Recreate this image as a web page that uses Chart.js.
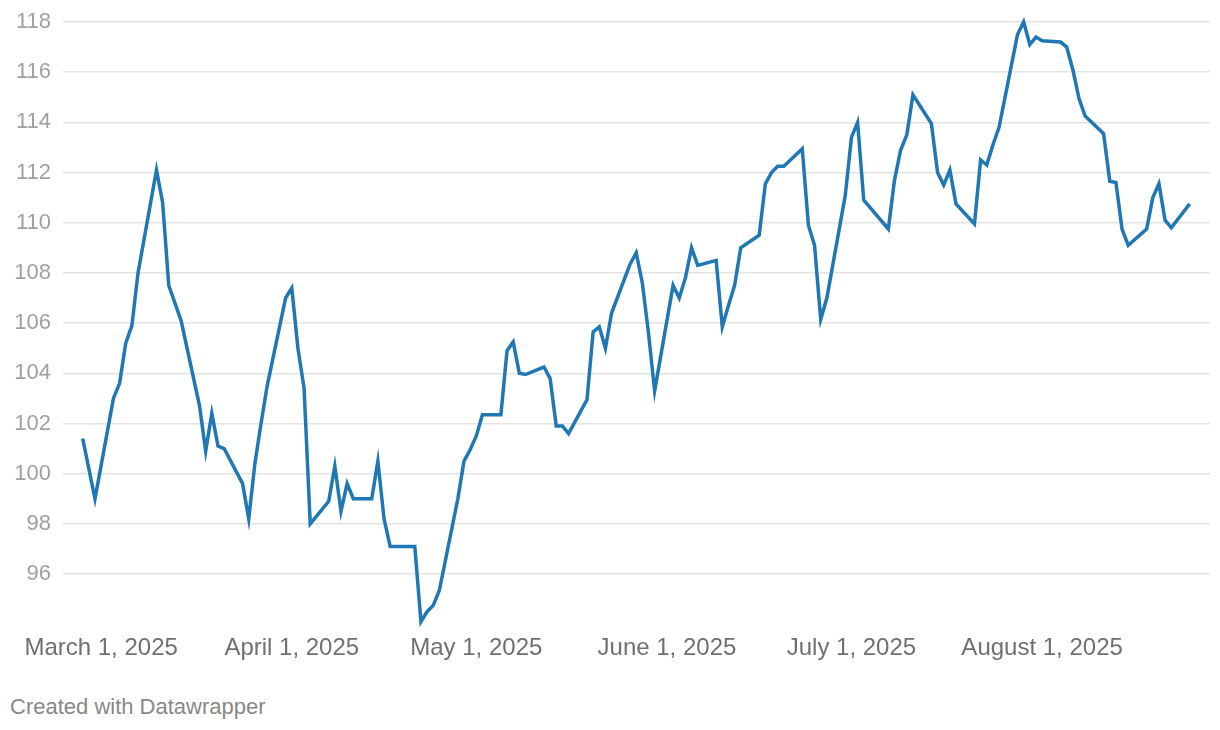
<!DOCTYPE html>
<html>
<head>
<meta charset="utf-8">
<script src="https://cdn.jsdelivr.net/npm/chart.js@4.4.1/dist/chart.umd.min.js"></script>
<style>
  html, body { margin: 0; padding: 0; background: #fff; }
  #wrap { position: relative; width: 1220px; height: 730px; }
  #chartBox { position: absolute; left: 0; top: 0; width: 1220px; height: 665px; }
  #credit { position: absolute; left: 10px; top: 694px; font: 22px "Liberation Sans", Arial, sans-serif; color: #888; }
</style>
</head>
<body>
<div id="wrap">
  <div id="chartBox"><canvas id="chart"></canvas></div>
  <div id="credit">Created with Datawrapper</div>
</div>
<script>
// daily closes
const dates = [
  "2025-02-26","2025-02-27","2025-02-28","2025-03-03","2025-03-04","2025-03-05","2025-03-06","2025-03-07",
  "2025-03-10","2025-03-11","2025-03-12","2025-03-13","2025-03-14","2025-03-17","2025-03-18","2025-03-19",
  "2025-03-20","2025-03-21","2025-03-24","2025-03-25","2025-03-26","2025-03-27","2025-03-28","2025-03-31",
  "2025-04-01","2025-04-02","2025-04-03","2025-04-04","2025-04-07","2025-04-08","2025-04-09","2025-04-10",
  "2025-04-11","2025-04-14","2025-04-15","2025-04-16","2025-04-17","2025-04-18","2025-04-21","2025-04-22",
  "2025-04-23","2025-04-24","2025-04-25","2025-04-28","2025-04-29","2025-04-30","2025-05-01","2025-05-02",
  "2025-05-05","2025-05-06","2025-05-07","2025-05-08","2025-05-09","2025-05-12","2025-05-13","2025-05-14",
  "2025-05-15","2025-05-16","2025-05-19","2025-05-20","2025-05-21","2025-05-22","2025-05-23","2025-05-26",
  "2025-05-27","2025-05-28","2025-05-29","2025-05-30","2025-06-02","2025-06-03","2025-06-04","2025-06-05",
  "2025-06-06","2025-06-09","2025-06-10","2025-06-11","2025-06-12","2025-06-13","2025-06-16","2025-06-17",
  "2025-06-18","2025-06-19","2025-06-20","2025-06-23","2025-06-24","2025-06-25","2025-06-26","2025-06-27",
  "2025-06-30","2025-07-01","2025-07-02","2025-07-03","2025-07-07","2025-07-08","2025-07-09","2025-07-10",
  "2025-07-11","2025-07-14","2025-07-15","2025-07-16","2025-07-17","2025-07-18","2025-07-21","2025-07-22",
  "2025-07-23","2025-07-24","2025-07-25","2025-07-28","2025-07-29","2025-07-30","2025-07-31","2025-08-01",
  "2025-08-04","2025-08-05","2025-08-06","2025-08-07","2025-08-08","2025-08-11","2025-08-12","2025-08-13",
  "2025-08-14","2025-08-15","2025-08-18","2025-08-19","2025-08-20","2025-08-21","2025-08-22","2025-08-25"
];
const values = [
  101.4, 100.2, 99.0, 103.0, 103.6, 105.2, 105.9, 108.0,
  112.1, 110.8, 107.5, 106.8, 106.1, 102.7, 100.9, 102.4,
  101.1, 101.0, 99.6, 98.2, 100.4, 102.0, 103.5, 107.0,
  107.4, 105.0, 103.4, 98.0, 98.9, 100.3, 98.5, 99.6,
  99.0, 99.0, 100.5, 98.2, 97.1, 97.1, 97.1, 94.1,
  94.5, 94.75, 95.35, 99.0, 100.5, 100.95, 101.5, 102.35,
  102.35, 104.9, 105.25, 104.0, 103.95, 104.25, 103.8, 101.9,
  101.9, 101.6, 102.95, 105.65, 105.85, 105.0, 106.4, 108.35,
  108.8, 107.6, 105.6, 103.3, 107.5, 107.0, 107.8, 109.0,
  108.3, 108.5, 105.85, 106.7, 107.5, 109.0, 109.5, 111.55,
  112.0, 112.25, 112.25, 112.95, 109.9, 109.1, 106.15, 107.0,
  111.1, 113.4, 114.0, 110.9, 109.75, 111.7, 112.9, 113.5,
  115.1, 113.95, 112.0, 111.5, 112.1, 110.75, 109.95, 112.5,
  112.3, 113.1, 113.8, 117.5, 118.0, 117.1, 117.4, 117.25,
  117.2, 117.0, 116.1, 114.95, 114.25, 113.55, 111.65, 111.6,
  109.75, 109.1, 109.75, 111.0, 111.55, 110.1, 109.8, 110.75
];
const tickDates = ["2025-03-01","2025-04-01","2025-05-01","2025-06-01","2025-07-01","2025-08-01"];
const tickLabels = ["March 1, 2025","April 1, 2025","May 1, 2025","June 1, 2025","July 1, 2025","August 1, 2025"];
const yTicks = [96, 98, 100, 102, 104, 106, 108, 110, 112, 114, 116, 118];

// x axis is linear in days since March 1
const BASE = Date.UTC(2025, 2, 1);
const dayNum = s => {
  const [y, m, d] = s.split("-").map(Number);
  return (Date.UTC(y, m - 1, d) - BASE) / 864e5;
};
const points = dates.map((d, i) => ({ x: dayNum(d), y: values[i] }));
const tickPos = tickDates.map(dayNum);

const font = '"Liberation Sans", Arial, sans-serif';

new Chart(document.getElementById("chart"), {
  type: "line",
  data: {
    datasets: [{
      data: points,
      borderColor: "#1f77b4",
      borderWidth: 3.5,
      pointRadius: 0,
      tension: 0,
      clip: false
    }]
  },
  options: {
    responsive: true,
    maintainAspectRatio: false,
    animation: false,
    layout: { padding: { top: 22, right: 10, left: 0, bottom: 0 } },
    plugins: { legend: { display: false }, tooltip: { enabled: false } },
    scales: {
      x: {
        type: "linear",
        min: -6.2,
        max: 180.3,
        afterBuildTicks: s => { s.ticks = tickPos.map(v => ({ value: v })); },
        ticks: {
          autoSkip: false, maxRotation: 0, padding: 2,
          color: "#707070",
          font: { family: font, size: 24 },
          callback: (v) => tickLabels[tickPos.indexOf(v)]
        },
        grid: { display: false },
        border: { display: false }
      },
      y: {
        min: 94,
        max: 118,
        afterBuildTicks: s => { s.ticks = yTicks.map(v => ({ value: v })); },
        afterFit: s => { s.width = 63; s.paddingTop = 0; s.paddingBottom = 0; },
        ticks: {
          padding: 12,
          color: "#a0a0a0",
          font: { family: font, size: 22 }
        },
        grid: { color: "#e3e3e3", lineWidth: 1.5, drawTicks: false },
        border: { display: false }
      }
    }
  }
});
</script>
</body>
</html>
